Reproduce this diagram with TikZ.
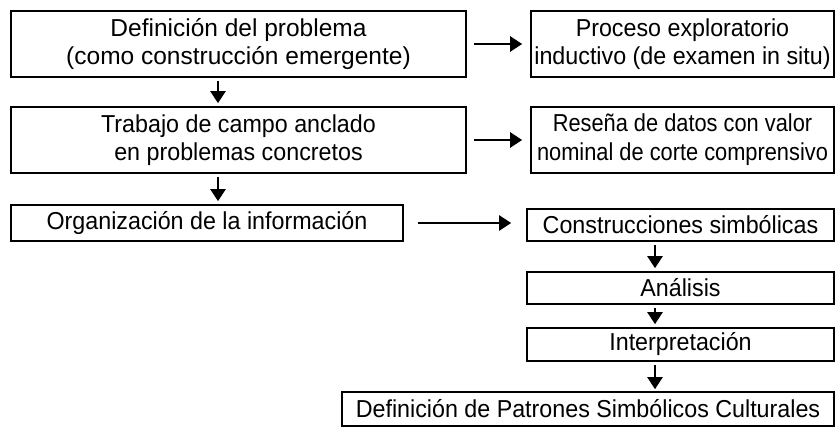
\documentclass[tikz,border=0pt]{standalone}
\usepackage{fontspec}
\setmainfont{Liberation Sans}[FakeStretch=0.95]
\newfontfamily\widefont{Liberation Sans}
\newfontfamily\narrowfont{Liberation Sans}[FakeStretch=0.89]
\usetikzlibrary{arrows.meta}
\begin{document}
\begin{tikzpicture}[x=1pt,y=-1pt,
  box/.style={draw=black, line width=1.6pt, inner sep=0pt, align=center,
    font=\fontsize{24.5}{28}\selectfont},
  arr/.style={line width=2.2pt, -{Triangle[length=12pt,width=15pt]}}]
\useasboundingbox (0,0) rectangle (835,427);
\node[box, minimum width=455pt, minimum height=66pt, font=\fontsize{24.5}{27.5}\widefont] (b1) at (238.5,44)
  {Definición del problema\\(como construcción emergente)};
\node[box, minimum width=303pt, minimum height=66pt] (b5) at (682.5,44)
  {Proceso exploratorio\\inductivo (de examen in situ)};
\node[box, minimum width=455pt, minimum height=66pt] (b2) at (238.5,140)
  {Trabajo de campo anclado\\en problemas concretos};
\node[box, minimum width=303pt, minimum height=66pt, font=\fontsize{24.5}{29}\narrowfont] (b6) at (682.5,140)
  {Reseña de datos con valor\\nominal de corte comprensivo};
\node[box, minimum width=392pt, minimum height=36pt] (b3) at (207,223)
  {Organización de la información};
\node[box, minimum width=307pt, minimum height=32pt] (b7) at (680.5,225)
  {Construcciones simbólicas};
\node[box, minimum width=307pt, minimum height=32pt] (b8) at (680.5,288)
  {Análisis};
\node[box, minimum width=307pt, minimum height=33pt] (b9) at (680.5,344.5)
  {Interpretación};
\node[box, minimum width=492pt, minimum height=34pt] (b10) at (588,409)
  {Definición de Patrones Simbólicos Culturales};
\coordinate (lx) at (218,0);
\coordinate (rx) at (655,0);
\draw[arr, shorten <=3pt, shorten >=3pt] (b1.south -| lx) -- (b2.north -| lx);
\draw[arr, shorten <=3pt, shorten >=3pt] (b2.south -| lx) -- (b3.north -| lx);
\draw[arr, shorten <=7pt, shorten >=8pt] (b1.east) -- (b5.west);
\draw[arr, shorten <=7pt, shorten >=8pt] (b2.east) -- (b6.west);
\draw[arr, shorten <=14pt, shorten >=15pt] (b3.east) -- (b3.east -| b7.west);
\draw[arr, shorten <=3pt, shorten >=3pt] (b7.south -| rx) -- (b8.north -| rx);
\draw[arr, shorten <=3pt, shorten >=3pt] (b8.south -| rx) -- (b9.north -| rx);
\draw[arr, shorten <=3pt, shorten >=2pt] (b9.south -| rx) -- (b10.north -| rx);
\end{tikzpicture}
\end{document}
